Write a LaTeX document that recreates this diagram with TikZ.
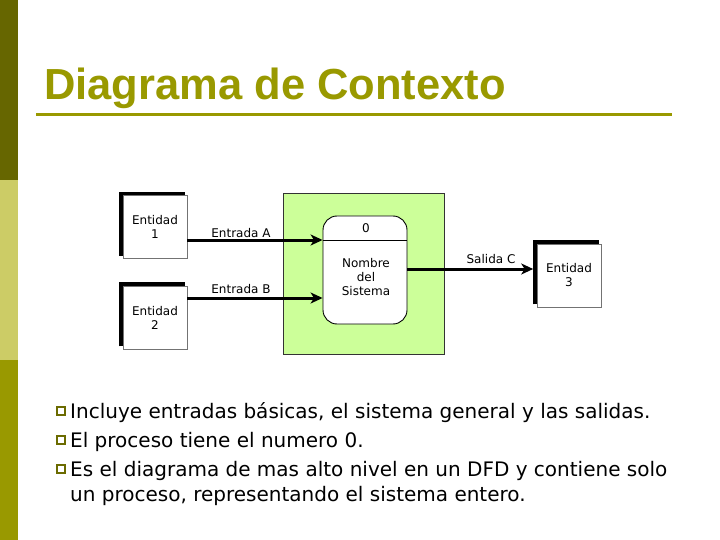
\documentclass[tikz,border=0pt]{standalone}
\usepackage{fontspec}
\setmainfont{DejaVu Sans}
\newfontfamily\titlefont{Liberation Sans}
\usetikzlibrary{arrows.meta}
\definecolor{barA}{HTML}{666600}
\definecolor{barB}{HTML}{CCCC66}
\definecolor{barC}{HTML}{999900}
\definecolor{titlecol}{HTML}{999900}
\definecolor{sysgreen}{HTML}{CCFF99}
\definecolor{bulletcol}{HTML}{6B6B00}
\tikzset{
  entbox/.style={draw=black!55, line width=0.6pt, fill=white, minimum width=64pt, minimum height=63pt, inner sep=0pt, align=center, font=\fontsize{12}{14}\selectfont},
  shadowline/.style={line width=3.5pt, black},
  procbox/.style={draw=black, line width=0.9pt, fill=white, rounded corners=14pt, minimum width=84pt, minimum height=108pt, inner sep=0pt},
  sysbox/.style={draw=black!80, line width=0.7pt, fill=sysgreen, minimum width=161pt, minimum height=161pt, inner sep=0pt},
  small/.style={font=\fontsize{12}{14}\selectfont, align=center, inner sep=0pt},
  flow/.style={line width=3pt, -{Stealth[length=12pt,width=11pt,inset=3.5pt]}},
  bulletbox/.style={draw=bulletcol, line width=1.3pt, fill=white, minimum width=8pt, minimum height=8pt, inner sep=0pt},
  bodytext/.style={font=\fontsize{20}{25}\selectfont, anchor=base west, inner sep=0pt, align=left},
}
\begin{document}
\begin{tikzpicture}[x=1pt,y=-1pt]
\useasboundingbox (0,0) rectangle (720,540);
\fill[white] (0,0) rectangle (720,540);
% left bar
\fill[barA] (0,0) rectangle (18,180);
\fill[barB] (0,180) rectangle (18,360);
\fill[barC] (0,360) rectangle (18,540);
% title
\node[anchor=base west, inner sep=0pt, text=titlecol, font=\titlefont\bfseries\fontsize{43.5}{50}\selectfont] (title) at (44,100) {Diagrama de Contexto};
\draw[titlecol, line width=3pt] (36,114.5) -- (672,114.5);
% system
\node[sysbox] (g) at (363.5,273.5) {};
\node[procbox] (p) at (365,270) {};
\coordinate (yA) at (0,240);
\coordinate (yB) at (0,298);
\coordinate (yC) at (0,269);
\draw[line width=0.9pt] (p.west |- yA) -- (p.east |- yA);
\node[small] (pn) at (366,228) {0};
\node[small] (pt) at (366,277) {Nombre\\del\\Sistema};
% entities
\node[entbox] (e1) at (155,227) {Entidad\\1};
\node[entbox] (e2) at (155,317.5) {Entidad\\2};
\node[entbox] (e3) at (569,275.5) {Entidad\\3};
\foreach \e in {e1,e2,e3}{
  \draw[shadowline] ([xshift=-1.75pt,yshift=3pt]\e.south west) -- ([xshift=-1.75pt,yshift=1.75pt]\e.north west) -- ([xshift=-2pt,yshift=1.75pt]\e.north east);
}
% flows
\draw[flow] (e1.east |- yA) -- (p.west |- yA);
\draw[flow] (e2.east |- yB) -- (p.west |- yB);
\draw[flow] (p.east |- yC) -- ([xshift=-3.5pt]e3.west |- yC);
\node[small] (la) at (241,233) {Entrada A};
\node[small] (lb) at (241,289) {Entrada B};
\node[small] (lc) at (491,259) {Salida C};
% bullets
\node[bulletbox] (b1) at (61,411) {};
\node[bulletbox] (b2) at (61,440) {};
\node[bulletbox] (b3) at (61,469) {};
\node[bodytext] (t1) at (70,418) {Incluye entradas básicas, el sistema general y las salidas.};
\node[bodytext] (t2) at (70,447) {El proceso tiene el numero 0.};
\node[bodytext] (t3) at (70,476) {Es el diagrama de mas alto nivel en un DFD y contiene solo};
\node[bodytext] (t4) at (70,501) {un proceso, representando el sistema entero.};
\end{tikzpicture}
\end{document}
